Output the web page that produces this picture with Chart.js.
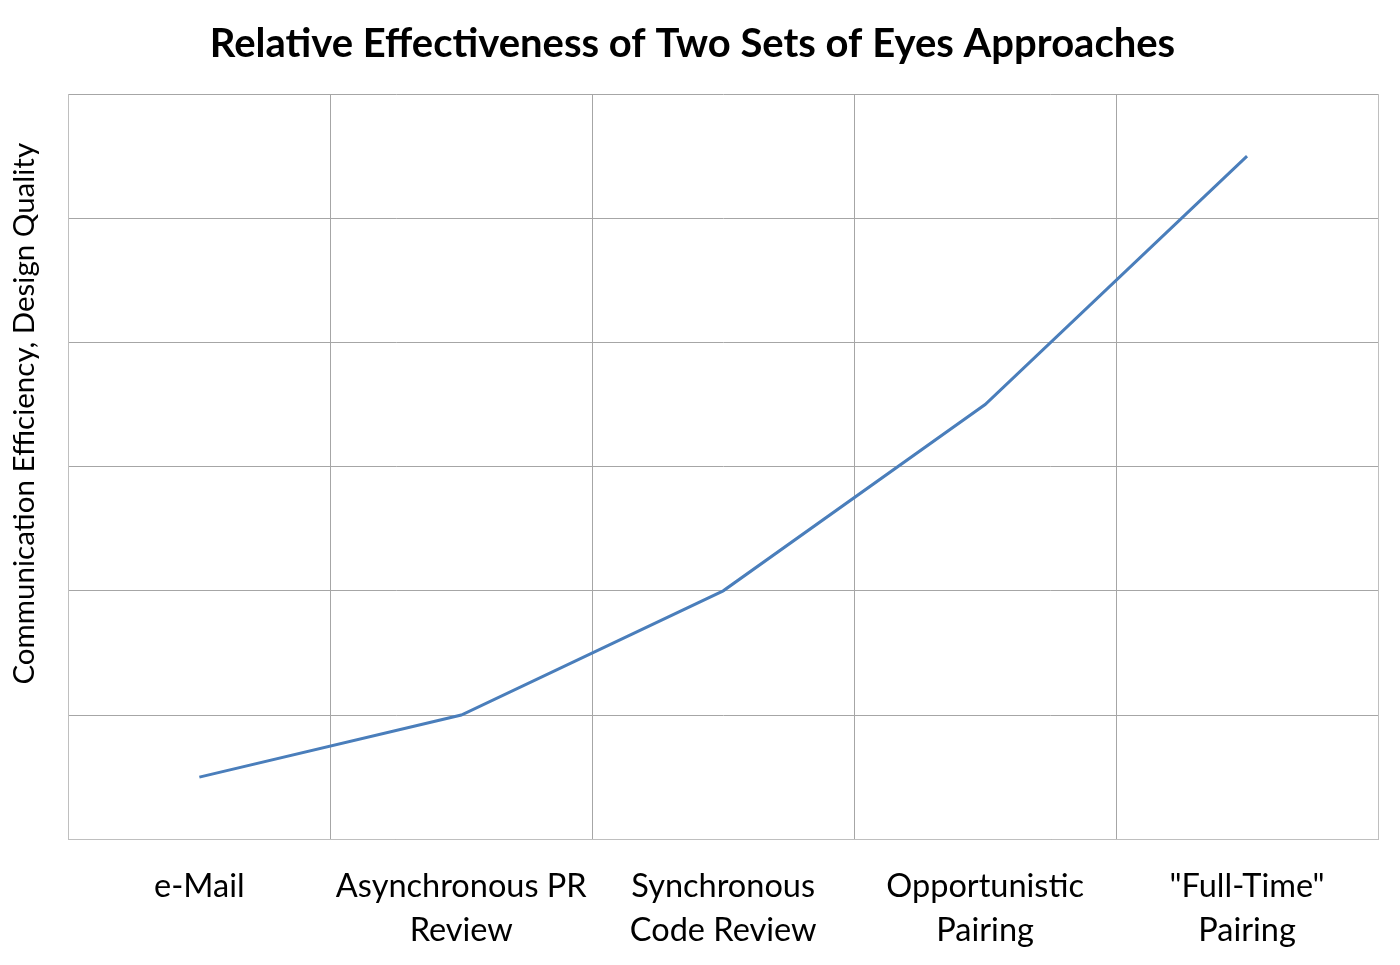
<!DOCTYPE html>
<html lang="en">
<head>
    <meta charset="UTF-8">
    <title>Relative Effectiveness of Two Sets of Eyes Approaches</title>
    <script src="https://cdn.jsdelivr.net/npm/chart.js"></script>
    <style>
        html, body { margin: 0; padding: 0; background: #ffffff; }
        #wrap { width: 1400px; height: 965px; }
    </style>
</head>
<body>
    <div id="wrap"><canvas id="eyesChart"></canvas></div>
    <script>
        // categories (multi-line labels) and relative values
        var categories = [
            'e-Mail',
            ['Asynchronous PR', 'Review'],
            ['Synchronous', 'Code Review'],
            ['Opportunistic', 'Pairing'],
            ['"Full-Time"', 'Pairing']
        ];
        var effectiveness = [0.5, 1, 2, 3.5, 5.5];
        var yTicks = [0, 1, 2, 3, 4, 5, 6];

        var fontFamily = 'Lato, "Open Sans", sans-serif';

        var ctx = document.getElementById('eyesChart').getContext('2d');
        var eyesChart = new Chart(ctx, {
            type: 'line',
            data: {
                labels: categories,
                datasets: [{
                    label: 'Effectiveness',
                    data: effectiveness,
                    borderColor: '#4a7ebb',
                    borderWidth: 3,
                    pointRadius: 0,
                    tension: 0,
                    fill: false
                }]
            },
            options: {
                responsive: true,
                maintainAspectRatio: false,
                animation: false,
                layout: { padding: { left: 7, right: 22, top: 20, bottom: -12 } },
                plugins: {
                    legend: { display: false },
                    tooltip: { enabled: false },
                    title: {
                        display: true,
                        text: 'Relative Effectiveness of Two Sets of Eyes Approaches',
                        color: '#000000',
                        font: { family: fontFamily, size: 40, weight: 'bold' },
                        padding: { top: 0, bottom: 26 }
                    }
                },
                scales: {
                    x: {
                        offset: true,
                        grid: {
                            offset: true,
                            color: '#a6a6a6',
                            lineWidth: 1,
                            drawTicks: false
                        },
                        border: { display: true, color: '#bfbfbf', width: 1 },
                        ticks: {
                            color: '#000000',
                            font: { family: fontFamily, size: 32.5, lineHeight: 1.35 },
                            padding: 25,
                            maxRotation: 0,
                            autoSkip: false
                        }
                    },
                    y: {
                        min: yTicks[0],
                        max: yTicks[yTicks.length - 1],
                        afterBuildTicks: function (axis) {
                            axis.ticks = yTicks.map(function (v) { return { value: v }; });
                        },
                        grid: {
                            color: '#a6a6a6',
                            lineWidth: 1,
                            drawTicks: false
                        },
                        border: { display: true, color: '#bfbfbf', width: 1 },
                        ticks: { display: false },
                        title: {
                            display: true,
                            // leading spaces push the centred title up, as in the original
                            text: '              Communication Efficiency, Design Quality',
                            color: '#000000',
                            font: { family: fontFamily, size: 29.5 },
                            padding: { top: 0, bottom: 26 }
                        }
                    }
                }
            },
            plugins: [{
                // close the box on the right edge
                id: 'rightBorder',
                afterDraw: function (chart) {
                    var a = chart.chartArea;
                    var c = chart.ctx;
                    c.save();
                    c.strokeStyle = '#bfbfbf';
                    c.lineWidth = 1;
                    c.beginPath();
                    c.moveTo(Math.round(a.right) + 0.5, a.top);
                    c.lineTo(Math.round(a.right) + 0.5, a.bottom);
                    c.stroke();
                    c.restore();
                }
            }]
        });
    </script>
</body>
</html>
